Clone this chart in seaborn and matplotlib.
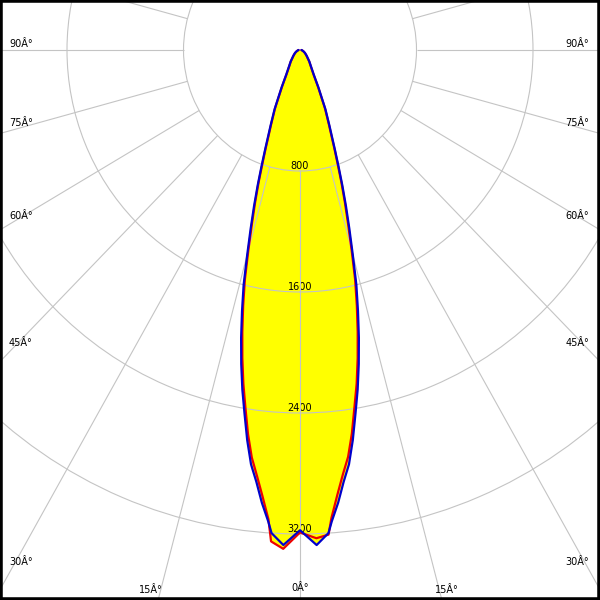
import numpy as np
import pandas as pd
import matplotlib.pyplot as plt
import seaborn as sns
from matplotlib.patches import Rectangle

# gamma angles (deg from nadir) and luminous intensity (cd) per C-plane
gamma = [0, 2, 3.5, 4, 5, 6, 7, 8, 9, 10, 11, 12, 13, 14, 15, 16, 17, 18,
         19, 20, 21, 22, 24, 27, 30, 35, 40, 50, 60, 70, 80, 90]
c0 = [3190, 3230, 3210, 3100, 2950, 2820, 2710, 2560, 2390, 2240, 2075, 1905,
      1735, 1565, 1370, 1200, 1055, 920, 790, 685, 595, 528, 420, 272, 185,
      127, 98, 58, 39, 24, 15, 10]
c180 = [3190, 3300, 3255, 3110, 2960, 2830, 2715, 2565, 2395, 2240, 2075, 1905,
        1735, 1565, 1370, 1200, 1055, 920, 790, 685, 595, 528, 420, 272, 185,
        127, 98, 58, 39, 24, 15, 10]
c90 = [3175, 3275, 3200, 3125, 3005, 2870, 2760, 2605, 2435, 2280, 2115, 1945,
       1770, 1600, 1400, 1230, 1080, 940, 810, 700, 610, 540, 430, 280, 190,
       130, 100, 60, 40, 25, 15, 10]
c270 = [3175, 3275, 3200, 3125, 3005, 2870, 2760, 2605, 2435, 2280, 2115, 1945,
        1770, 1600, 1400, 1230, 1080, 940, 810, 700, 610, 540, 430, 280, 190,
        130, 100, 60, 40, 25, 15, 10]

ring_values = [800, 1600, 2400, 3200]
ring_labels = ["800", "1600", "2400", "3200"]
side_labels = ["90Â°", "75Â°", "60Â°", "45Â°", "30Â°"]
bottom_labels = ["15Â°", "0Â°", "15Â°"]

sns.set_style("white")
plt.rcParams["font.family"] = ["DejaVu Sans"]
plt.rcParams["text.color"] = "black"

# layout of the 600x600 picture: pole at x=300, y=50 from the top
px_x = 116.5 / 800
px_y = 121 / 800
r_max = 4400
grid_color = "#c4c4c4"

fig = plt.figure(figsize=(6, 6), dpi=100)
half_w = r_max * px_x / 600
half_h = r_max * px_y / 600
ax = fig.add_axes([0.5 - half_w, 550 / 600 - half_h, 2 * half_w, 2 * half_h],
                  projection="polar")
ax.set_aspect("auto")
ax.set_theta_zero_location("S")
ax.set_axisbelow("line")  # grid above the yellow fill, below the curves


def plane(right, left):
    g = np.array(gamma, dtype=float)
    theta = np.deg2rad(np.concatenate([-g[::-1], g[1:]]))
    r = np.concatenate([np.array(left)[::-1], np.array(right)[1:]])
    return pd.DataFrame({"theta": theta, "r": r})


red = plane(c0, c180)
blue = plane(c90, c270)

ax.fill(blue["theta"], blue["r"], color="#ffff00", lw=0, zorder=1)
ax.fill(red["theta"], red["r"], color="#ffff00", lw=0, zorder=1)

sns.lineplot(data=red, x="theta", y="r", sort=False, estimator=None,
             color="#ee0000", lw=1.6, ax=ax, zorder=2)
sns.lineplot(data=blue, x="theta", y="r", sort=False, estimator=None,
             color="#0000cc", lw=1.6, ax=ax, zorder=2.1)

ax.set_rlim(0, r_max)
ax.set_xticks([])
ax.set_rticks(ring_values)
ax.set_yticklabels([])
ax.set_xlabel("")
ax.set_ylabel("")
ax.yaxis.grid(True, color=grid_color, lw=0.8)
ax.vlines(np.deg2rad(np.arange(0, 360, 15)), ring_values[0], r_max,
          colors=grid_color, lw=0.8, zorder=1.5)
ax.spines["polar"].set_visible(False)

for v, lab in zip(ring_values, ring_labels):
    ax.text(0, v - 33, lab, ha="center", va="center", fontsize=7, zorder=1.2)

side_y = [47, 126, 219, 346, 565]
for lab, y in zip(side_labels, side_y):
    fig.text(9 / 600, 1 - y / 600, lab, ha="left", va="baseline", fontsize=7)
    fig.text(589 / 600, 1 - y / 600, lab, ha="right", va="baseline", fontsize=7)

for lab, x, y in zip(bottom_labels, [151, 300, 447], [593, 591, 593]):
    fig.text(x / 600, 1 - y / 600, lab, ha="center", va="baseline", fontsize=7)

fig.add_artist(Rectangle((0, 0), 1, 1, transform=fig.transFigure, fill=False,
                         ec="black", lw=4, zorder=10))

fig.savefig("out.png", dpi=100)
